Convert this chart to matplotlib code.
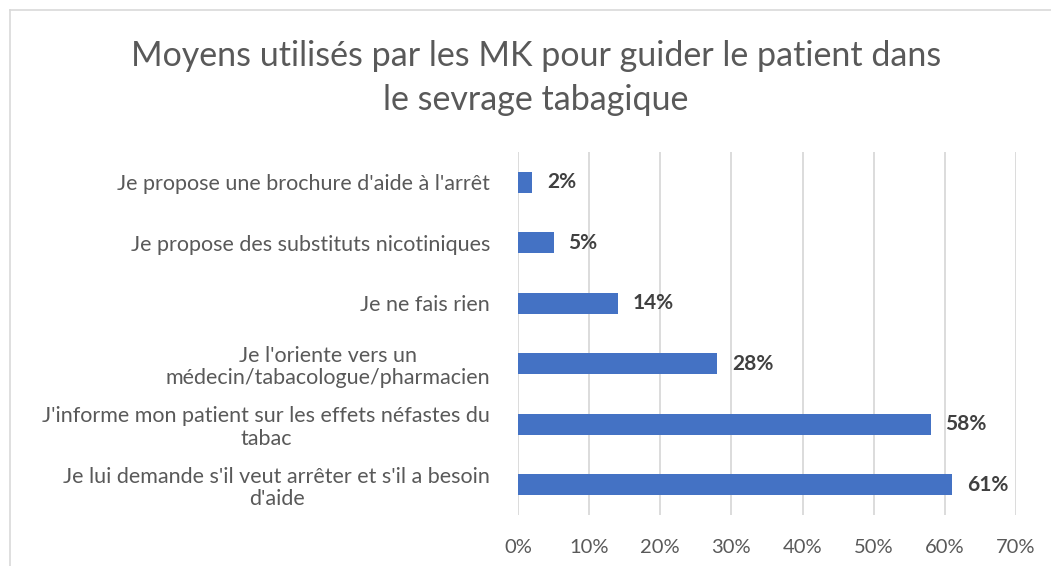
"""Moyens utilisés par les MK pour guider le patient dans le sevrage tabagique."""
import matplotlib; matplotlib.use("Agg")
import matplotlib.pyplot as plt
from matplotlib.lines import Line2D
import numpy as np

labels = ["Je lui demande s'il veut arrêter et s'il a besoin\nd'aide",
          "J'informe mon patient sur les effets néfastes du\ntabac",
          "Je l'oriente vers un\nmédecin/tabacologue/pharmacien",
          "Je ne fais rien",
          "Je propose des substituts nicotiniques",
          "Je propose une brochure d'aide à l'arrêt"]
values = [61, 58, 28, 14, 5, 2]
xticks = [0, 10, 20, 30, 40, 50, 60, 70]

BAR = '#4472C4'; GRID = '#D9D9D9'; TXT = '#595959'; VAL = '#404040'
plt.rcParams.update({'font.family': ['Lato', 'DejaVu Sans']})

fig = plt.figure(figsize=(10.51, 5.66), dpi=100)
ax = fig.add_axes([518/1051, 1-515/566, (1016-518)/1051, (515-152)/566])
y = np.arange(len(values))
ax.barh(y, values, height=0.35, color=BAR, zorder=3)
for yi, v in zip(y, values):
    ax.text(v + 2.1, yi, f'{v}%', va='center', ha='left', fontsize=15,
            fontweight='bold', color=VAL)
ax.set_xlim(0, 70)
ax.set_ylim(-0.5, len(values) - 0.5)
ax.set_xticks(xticks)
ax.set_xticklabels([f'{t}%' for t in xticks], fontsize=14.5, color=TXT)
ax.set_yticks(y)
ax.set_yticklabels(labels, fontsize=15.5, color=TXT, multialignment='center',
                   linespacing=1.15)
ax.tick_params(length=0, axis='y', pad=20)
ax.tick_params(length=0, axis='x', pad=17)
ax.grid(axis='x', color=GRID, lw=1.3, zorder=0)
for s in ax.spines.values():
    s.set_visible(False)

fig.text(536/1051, 1-78/566, 'Moyens utilisés par les MK pour guider le patient dans\nle sevrage tabagique',
         ha='center', va='center', fontsize=24.5, color=TXT, linespacing=1.45)

# chart area border
fig.add_artist(Line2D([10/1051, 1], [1-10/566, 1-10/566], color=GRID, lw=1.2))
fig.add_artist(Line2D([10/1051, 10/1051], [0, 1-10/566], color=GRID, lw=1.2))

plt.savefig('out.png', dpi=100)
print('saved out.png')
